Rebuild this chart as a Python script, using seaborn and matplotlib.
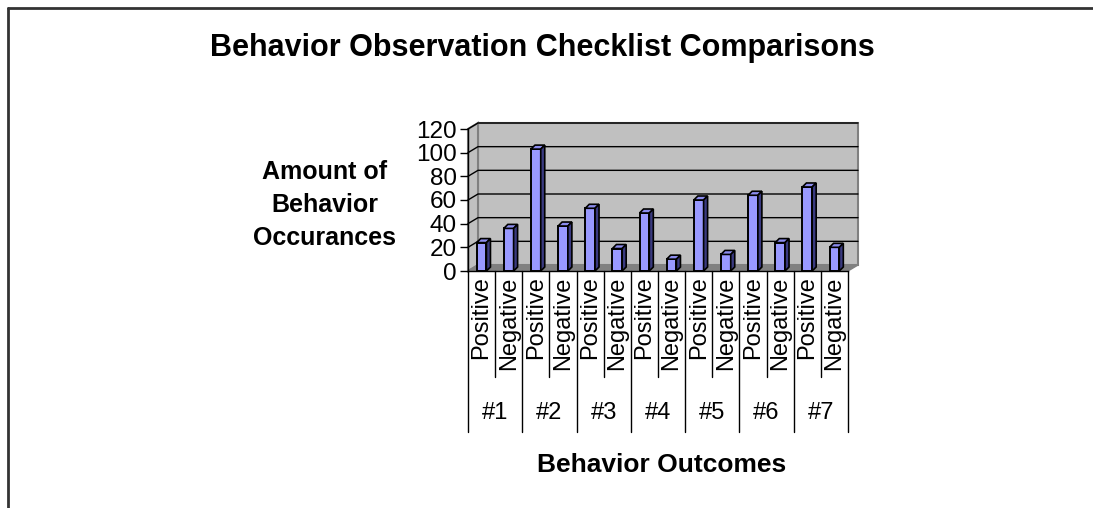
import numpy as np
import pandas as pd
import matplotlib
matplotlib.use("Agg")
import matplotlib.pyplot as plt
import matplotlib.transforms as mtrans
from matplotlib.patches import Polygon
from matplotlib.lines import Line2D
import seaborn as sns

groups = ["#1", "#2", "#3", "#4", "#5", "#6", "#7"]
kinds = ["Positive", "Negative"]
positive = [24, 103, 53, 49, 60, 64, 71]
negative = [36, 38, 19, 10, 14, 24, 20]
y_ticks = [0, 20, 40, 60, 80, 100, 120]

sns.set_theme(style="white")
plt.rcParams['font.family'] = ['Liberation Sans', 'DejaVu Sans']

rows = []
for g, p, n in zip(groups, positive, negative):
    rows.append((g, kinds[0], p))
    rows.append((g, kinds[1], n))
df = pd.DataFrame(rows, columns=["group", "kind", "value"])
df["key"] = df["group"] + " " + df["kind"]

W, H = 1093, 508
fig = plt.figure(figsize=(W / 100, H / 100), dpi=100)
fig.patch.set_facecolor("white")
L, R, T, B = 468, 848, 129, 271
ax = fig.add_axes([L / W, 1 - B / H, (R - L) / W, (B - T) / H])
ax.set_facecolor("none")

sns.barplot(data=df, x="key", y="value", order=list(df["key"]), color="#9999ff",
            width=0.36, edgecolor="black", linewidth=1.4, saturation=1, ax=ax, zorder=3)
bars = list(ax.patches)

n = len(df)
ax.set_xlim(-0.5, n - 0.5)
ax.set_ylim(0, 120)
px_x = n / (R - L)
px_y = 120 / (B - T)
wdx, wdy = 10 * px_x, 6 * px_y
bdx, bdy = 4 * px_x, 4 * px_y
x0, x1 = -0.5, n - 0.5
ymax = y_ticks[-1]

# walls and floor
ax.add_patch(Polygon([(x0 + wdx, wdy), (x1 + wdx, wdy), (x1 + wdx, ymax + wdy), (x0 + wdx, ymax + wdy)],
                     closed=True, facecolor="#c0c0c0", edgecolor="#808080", lw=1.5, zorder=0, clip_on=False))
ax.add_patch(Polygon([(x0, 0), (x0 + wdx, wdy), (x0 + wdx, ymax + wdy), (x0, ymax)],
                     closed=True, facecolor="#c0c0c0", edgecolor="#808080", lw=1.5, zorder=0, clip_on=False))
ax.add_patch(Polygon([(x0, 0), (x1, 0), (x1 + wdx, wdy), (x0 + wdx, wdy)],
                     closed=True, facecolor="#808080", edgecolor="#808080", lw=1, zorder=0.5, clip_on=False))
for yv in y_ticks[1:]:
    ax.plot([x0, x0 + wdx, x1 + wdx], [yv, yv + wdy, yv + wdy], color="black", lw=1, zorder=0.8, clip_on=False)

# 3D faces on bars
for p in bars:
    bx, bw, bh = p.get_x(), p.get_width(), p.get_height()
    ax.add_patch(Polygon([(bx, bh), (bx + bw, bh), (bx + bw + bdx, bh + bdy), (bx + bdx, bh + bdy)],
                         closed=True, facecolor="#8c8cee", edgecolor="black", lw=1.2, zorder=3, clip_on=False))
    ax.add_patch(Polygon([(bx + bw, 0), (bx + bw + bdx, bdy), (bx + bw + bdx, bh + bdy), (bx + bw, bh)],
                         closed=True, facecolor="#3a3a80", edgecolor="black", lw=1.2, zorder=3, clip_on=False))

for s in ["top", "right"]:
    ax.spines[s].set_visible(False)
for s in ["left", "bottom"]:
    ax.spines[s].set_visible(True)
    ax.spines[s].set_color("black")
    ax.spines[s].set_linewidth(1)

ax.set_yticks(y_ticks)
ax.set_yticklabels([str(v) for v in y_ticks])
ax.tick_params(axis="y", left=True, direction="out", length=6, width=1, color="black",
               labelsize=17.5, pad=2, labelcolor="black")
ax.set_xticks(range(n))
ax.set_xticklabels(list(df["kind"]), rotation=90, fontsize=17, color="black")
ax.tick_params(axis="x", bottom=False, length=0, pad=4)

trans = mtrans.blended_transform_factory(ax.transData, ax.transAxes)
cat_depth = -(377 - B) / (B - T)
grp_depth = -(432 - B) / (B - T)
for i in range(n + 1):
    xv = i - 0.5
    d = grp_depth if i % 2 == 0 else cat_depth
    ax.plot([xv, xv], [0, d], transform=trans, color="black", lw=1, clip_on=False)
for gi, g in enumerate(groups):
    ax.text(2 * gi + 0.5, -(413 - B) / (B - T), g, transform=trans, ha="center", va="center",
            fontsize=17, color="black")

ax.set_ylabel("Amount of\nBehavior\nOccurances", rotation=0, fontsize=18, fontweight="bold",
              ha="center", va="center", linespacing=1.45, color="black")
ax.yaxis.set_label_coords((325 - L) / (R - L), (B - 205) / (B - T))
ax.set_xlabel("Behavior Outcomes", fontsize=19, fontweight="bold", color="black")
ax.xaxis.set_label_coords((662 - L) / (R - L), -(465 - B) / (B - T))
ax.xaxis.label.set_va("center")

fig.text(542 / W, 1 - 48 / H, "Behavior Observation Checklist Comparisons", ha="center", va="center",
         fontsize=22, fontweight="bold", color="black")

fig.add_artist(Line2D([8 / W, 8 / W], [0, 1 - 8 / H], transform=fig.transFigure, color="#333333", lw=2))
fig.add_artist(Line2D([8 / W, 1], [1 - 8 / H, 1 - 8 / H], transform=fig.transFigure, color="#333333", lw=2))

fig.savefig("out.png", dpi=100)
